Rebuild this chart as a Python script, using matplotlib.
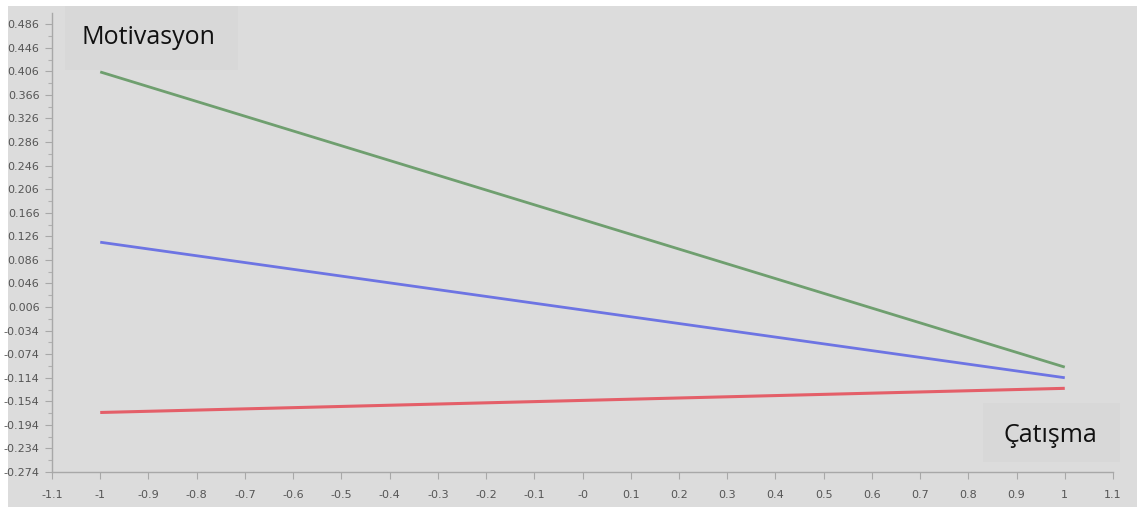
import matplotlib
matplotlib.use("Agg")
import matplotlib.pyplot as plt
from matplotlib.patches import Rectangle
from matplotlib.ticker import FixedLocator

# Simple slopes: moderator levels at x = -1 and x = 1
x_points = [-1, 1]
green_values = [0.405, -0.096]
blue_values = [0.116, -0.114]
red_values = [-0.173, -0.132]

x_ticks = [-1.1, -1.0, -0.9, -0.8, -0.7, -0.6, -0.5, -0.4, -0.3, -0.2, -0.1,
           0.0, 0.1, 0.2, 0.3, 0.4, 0.5, 0.6, 0.7, 0.8, 0.9, 1.0, 1.1]
x_tick_labels = ["-1.1", "-1", "-0.9", "-0.8", "-0.7", "-0.6", "-0.5", "-0.4",
                 "-0.3", "-0.2", "-0.1", "-0", "0.1", "0.2", "0.3", "0.4", "0.5",
                 "0.6", "0.7", "0.8", "0.9", "1", "1.1"]
y_ticks = [0.486, 0.446, 0.406, 0.366, 0.326, 0.286, 0.246, 0.206, 0.166,
           0.126, 0.086, 0.046, 0.006, -0.034, -0.074, -0.114, -0.154,
           -0.194, -0.234, -0.274]
y_tick_labels = ["0.486", "0.446", "0.406", "0.366", "0.326", "0.286", "0.246",
                 "0.206", "0.166", "0.126", "0.086", "0.046", "0.006", "-0.034",
                 "-0.074", "-0.114", "-0.154", "-0.194", "-0.234", "-0.274"]

y_title = "Motivasyon"
x_title = "Çatışma"

bg = "#dcdcdc"
W, H = 1137, 507
fig = plt.figure(figsize=(W / 100, H / 100), dpi=100, facecolor="white")

# grey panel behind everything
fig.patches.append(Rectangle((8 / W, 0), 1 - 8 / W, 1 - 6 / H,
                             transform=fig.transFigure, facecolor=bg,
                             edgecolor="none", zorder=0))
# label boxes
fig.patches.append(Rectangle((65 / W, 1 - 70 / H), 173 / W, 64 / H,
                             transform=fig.transFigure, facecolor="#d8d8d8",
                             edgecolor="none", zorder=0.5))
fig.patches.append(Rectangle((983 / W, 1 - 462 / H), 137 / W, 59 / H,
                             transform=fig.transFigure, facecolor="#d8d8d8",
                             edgecolor="none", zorder=0.5))

left, right = 52 / W, 1113 / W
bottom, top = 1 - 472 / H, 1 - 13 / H
ax = fig.add_axes([left, bottom, right - left, top - bottom])
ax.set_zorder(2)
ax.set_facecolor("none")
ax.patch.set_alpha(0)

ax.plot(x_points, green_values, color="#6f9f6f", lw=2.0, solid_capstyle="butt")
ax.plot(x_points, blue_values, color="#6d74e3", lw=2.0, solid_capstyle="butt")
ax.plot(x_points, red_values, color="#e45f69", lw=2.2, solid_capstyle="butt")

ax.set_xlim(-1.1, 1.1)
ax.set_ylim(-0.274, 0.505)

for s in ("top", "right"):
    ax.spines[s].set_visible(False)
for s in ("left", "bottom"):
    ax.spines[s].set_color("#a8a8a8")
    ax.spines[s].set_linewidth(1.0)

tick_font = dict(family=["Liberation Sans Narrow", "DejaVu Sans"], size=8,
                 color="#555555")
ax.xaxis.set_major_locator(FixedLocator(x_ticks))
ax.set_xticklabels(x_tick_labels, **tick_font)
ax.yaxis.set_major_locator(FixedLocator(y_ticks))
ax.set_yticklabels(y_tick_labels, **tick_font)
ax.yaxis.set_minor_locator(FixedLocator([v + 0.02 for v in y_ticks]))
ax.tick_params(axis="both", which="major", length=5, width=0.8,
               color="#a8a8a8", pad=4)
ax.tick_params(axis="y", which="minor", length=3, width=0.8, color="#b0b0b0")
ax.tick_params(axis="x", which="major", pad=8)

fig.text(148 / W, 1 - 37 / H, y_title, ha="center", va="center",
         fontsize=18, family=["Open Sans", "DejaVu Sans"], color="#111111",
         zorder=3)
fig.text(1050 / W, 1 - 435 / H, x_title, ha="center", va="center",
         fontsize=18, family=["Open Sans", "DejaVu Sans"], color="#111111",
         zorder=3)

fig.savefig("out.png", dpi=100, facecolor="white")
